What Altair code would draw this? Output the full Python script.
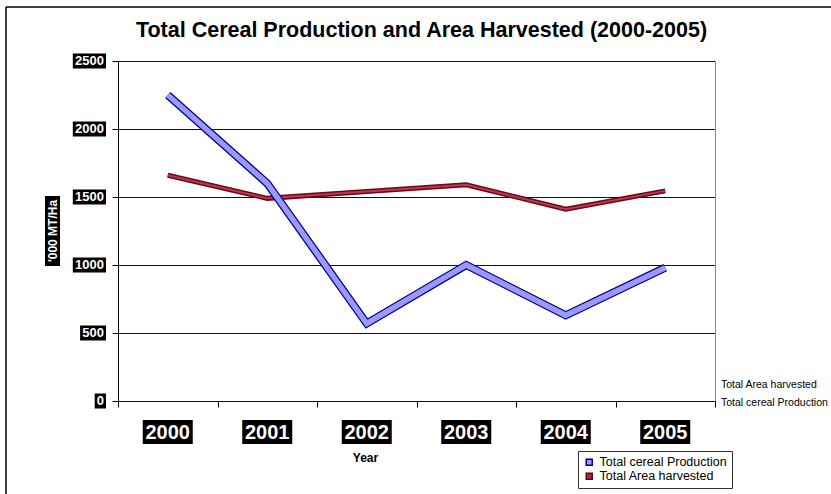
import altair as alt
import pandas as pd

# ---- data -------------------------------------------------------------
years = [2000, 2001, 2002, 2003, 2004, 2005]
production = [2250, 1600, 570, 1000, 630, 980]
area_harvested = [1660, 1490, 1540, 1590, 1410, 1545]
series_names = ["Total cereal Production", "Total Area harvested"]
y_ticks = [0, 500, 1000, 1500, 2000, 2500]
y_tick_labels = ["0", "500", "1000", "1500", "2000", "2500"]
year_labels = ["2000", "2001", "2002", "2003", "2004", "2005"]

FONT = "Liberation Sans"
W, H = 597, 340
LEFT, TOP = 118, 61

df = pd.DataFrame({
    "year": years * 2,
    "value": production + area_harvested,
    "series": [series_names[0]] * len(years) + [series_names[1]] * len(years),
})
ylab_df = pd.DataFrame({"value": y_ticks, "label": y_tick_labels})
year_df = pd.DataFrame({"year": years, "label": year_labels})
one = pd.DataFrame({"_": [0]})

y_scale = alt.Scale(domain=[0, 2500], nice=False, zero=True)
x_scale = alt.Scale(paddingInner=0, paddingOuter=0)

x_main = alt.X(
    "year:O", scale=x_scale,
    axis=alt.Axis(labels=False, ticks=True, tickBand="extent", tickSize=6,
                  tickColor="black", domainColor="black", grid=False,
                  title="Year", titleFont=FONT, titleFontSize=12,
                  titleFontWeight="bold", titleX=247, titleY=56,
                  titleBaseline="middle", titleColor="black"),
)
y_main = alt.Y(
    "value:Q", scale=y_scale,
    axis=alt.Axis(values=y_ticks, labels=False, title=None, ticks=True,
                  tickSize=6, tickColor="black", domainColor="black",
                  grid=False),
)

base = alt.Chart(df)
prod = base.transform_filter(alt.datum.series == series_names[0])
area = base.transform_filter(alt.datum.series == series_names[1])

# horizontal gridlines across the back wall
grid = alt.Chart(ylab_df).mark_rule(color="#111111", strokeWidth=1, yOffset=0.5).encode(
    x=alt.value(0), x2=alt.value(W), y=y_main,
)

# ribbons: dark outline underneath, lighter face on top
area_outer = area.mark_line(color="#7a0010", strokeWidth=5).encode(x=x_main, y="value:Q")
area_inner = area.mark_line(color="#a8405c", strokeWidth=2).encode(x="year:O", y="value:Q")
prod_outer = prod.mark_line(color="#000080", strokeWidth=8).encode(x="year:O", y="value:Q")
prod_inner = prod.mark_line(color="#9999ff", strokeWidth=5.5).encode(x="year:O", y="value:Q")

# invisible points that carry the legend
legend_pts = base.mark_point(shape="square", filled=True, opacity=0, size=36,
                             strokeWidth=1.5).encode(
    x="year:O", y="value:Q",
    fill=alt.Fill("series:N", scale=alt.Scale(domain=series_names, range=["#9999ff", "#993355"]),
                  legend=alt.Legend(title=None)),
    stroke=alt.Stroke("series:N", scale=alt.Scale(domain=series_names, range=["#000080", "#660000"]),
                      legend=alt.Legend(title=None)),
)

# value labels on the vertical axis: white on black
ylab_box = alt.Chart(ylab_df).transform_calculate(
    x0="-14 - length(datum.label) * 7.3 - 2"
).mark_rect(color="black", yOffset=-7.5, y2Offset=7.5).encode(
    x=alt.X("x0:Q", scale=None), x2=alt.value(-12),
    y="value:Q", y2="value:Q",
)
ylab_txt = alt.Chart(ylab_df).mark_text(
    align="right", baseline="middle", color="white", font=FONT,
    fontWeight="bold", fontSize=13,
).encode(x=alt.value(-14), y="value:Q", text="label:N")

# category labels along the bottom
year_box = alt.Chart(year_df).mark_rect(color="black", width=50).encode(
    x="year:O", y=alt.value(359), y2=alt.value(383),
)
year_txt = alt.Chart(year_df).mark_text(
    baseline="middle", color="white", font=FONT, fontWeight="bold", fontSize=20,
).encode(x="year:O", y=alt.value(372), text="label:N")

# vertical axis title
ytitle_box = alt.Chart(one).mark_rect(color="black").encode(
    x=alt.value(-73), x2=alt.value(-58), y=alt.value(135), y2=alt.value(205),
)
ytitle_txt = alt.Chart(one).mark_text(
    text="'000 MT/Ha", angle=270, baseline="middle", color="white",
    font=FONT, fontWeight="bold", fontSize=12,
).encode(x=alt.value(-65.5), y=alt.value(170))

# series (depth) labels on the right
depth1 = alt.Chart(one).mark_text(
    text="Total Area harvested", align="left", baseline="middle",
    font=FONT, fontSize=10.5, color="black",
).encode(x=alt.value(603), y=alt.value(324))
depth2 = alt.Chart(one).mark_text(
    text="Total cereal Production", align="left", baseline="middle",
    font=FONT, fontSize=10.5, color="black",
).encode(x=alt.value(603), y=alt.value(342))

# outer frame
frame_top = alt.Chart(one).mark_rule(color="black", strokeWidth=1.5).encode(
    x=alt.value(-112), x2=alt.value(760), y=alt.value(-54))
frame_left = alt.Chart(one).mark_rule(color="black", strokeWidth=1.5).encode(
    x=alt.value(-112), y=alt.value(-54), y2=alt.value(460))

chart = alt.layer(
    grid, area_outer, area_inner, prod_outer, prod_inner, legend_pts,
    ylab_box, ylab_txt, year_box, year_txt, ytitle_box, ytitle_txt,
    depth1, depth2, frame_top, frame_left,
).encode(
    y=y_main,
).properties(
    width=W, height=H,
    title=alt.Title("Total Cereal Production and Area Harvested (2000-2005)",
                    font=FONT, fontSize=21.5, fontWeight="bold", anchor="middle",
                    dx=5, dy=39, color="black"),
    autosize=alt.AutoSizeParams(type="none"),
    padding={"left": LEFT, "top": TOP, "right": 831 - LEFT - W, "bottom": 494 - TOP - H},
).configure_view(
    stroke="#8a8a8a", strokeWidth=1,
).configure_legend(
    orient="none", legendX=460, legendY=390, strokeColor="#333", fillColor="white",
    padding=5, symbolType="square", symbolSize=36, symbolStrokeWidth=1.5,
    labelFont=FONT, labelFontSize=12.5, rowPadding=1, labelLimit=300,
    labelOffset=4, symbolOpacity=1,
)

chart.save("out.html", embed_options={"renderer": "svg", "actions": False})
